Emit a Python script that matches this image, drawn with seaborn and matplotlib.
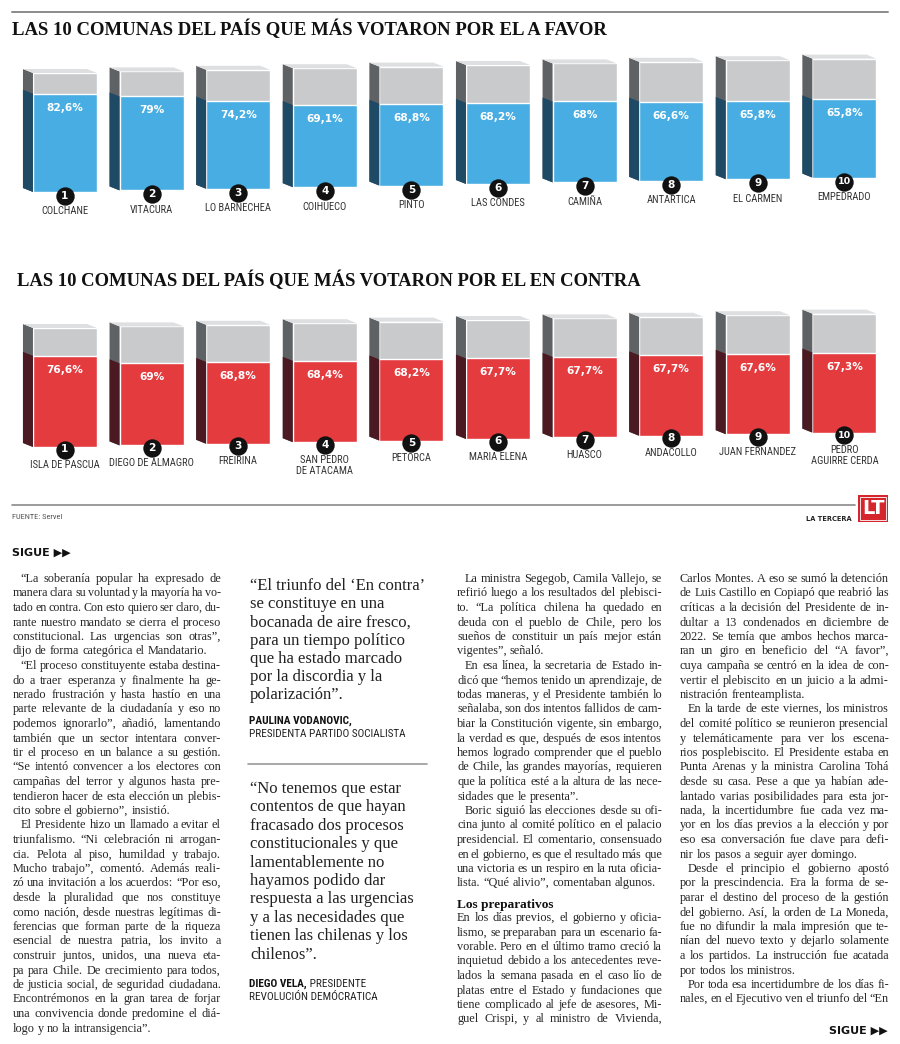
import math
import matplotlib
matplotlib.use("Agg")
import pandas as pd
import seaborn as sns
import matplotlib.pyplot as plt
from matplotlib.patches import Polygon, Rectangle
from matplotlib.font_manager import FontProperties, fontManager

# Datos de los dos graficos
titulo_favor = "LAS 10 COMUNAS DEL PAÍS QUE MÁS VOTARON POR EL A FAVOR"
favor_comunas = ["COLCHANE", "VITACURA", "LO BARNECHEA", "COIHUECO", "PINTO",
                 "LAS CONDES", "CAMIÑA", "ANTARTICA", "EL CARMEN", "EMPEDRADO"]
favor_pct = [82.6, 79, 74.2, 69.1, 68.8, 68.2, 68, 66.6, 65.8, 65.8]

titulo_contra = "LAS 10 COMUNAS DEL PAÍS QUE MÁS VOTARON POR EL EN CONTRA"
contra_comunas = ["ISLA DE PASCUA", "DIEGO DE ALMAGRO", "FREIRINA", "SAN PEDRO\nDE ATACAMA", "PETORCA",
                  "MARIA ELENA", "HUASCO", "ANDACOLLO", "JUAN FERNANDEZ", "PEDRO\nAGUIRRE CERDA"]
contra_pct = [76.6, 69, 68.8, 68.4, 68.2, 67.7, 67.7, 67.7, 67.6, 67.3]

fuente = "FUENTE: Servel"

# Texto de la nota: (sangria, lineas, sigue_en_otra_columna)
col1 = [
    (True, ["“La soberanía popular ha expresado de",
            "manera clara su voluntad y la mayoría ha vo-",
            "tado en contra. Con esto quiero ser claro, du-",
            "rante nuestro mandato se cierra el proceso",
            "constitucional. Las urgencias son otras”,",
            "dijo de forma categórica el Mandatario."], False),
    (True, ["“El proceso constituyente estaba destina-",
            "do a traer esperanza y finalmente ha ge-",
            "nerado frustración y hasta hastío en una",
            "parte relevante de la ciudadanía y eso no",
            "podemos ignorarlo”, añadió, lamentando",
            "también que un sector intentara conver-",
            "tir el proceso en un balance a su gestión.",
            "“Se intentó convencer a los electores con",
            "campañas del terror y algunos hasta pre-",
            "tendieron hacer de esta elección un plebis-",
            "cito sobre el gobierno”, insistió."], False),
    (True, ["El Presidente hizo un llamado a evitar el",
            "triunfalismo. “Ni celebración ni arrogan-",
            "cia. Pelota al piso, humildad y trabajo.",
            "Mucho trabajo”, comentó. Además reali-",
            "zó una invitación a los acuerdos: “Por eso,",
            "desde la pluralidad que nos constituye",
            "como nación, desde nuestras legítimas di-",
            "ferencias que forman parte de la riqueza",
            "esencial de nuestra patria, los invito a",
            "construir juntos, unidos, una nueva eta-",
            "pa para Chile. De crecimiento para todos,",
            "de justicia social, de seguridad ciudadana.",
            "Encontrémonos en la gran tarea de forjar",
            "una convivencia donde predomine el diá-",
            "logo y no la intransigencia”."], False),
]

col3a = [
    (True, ["La ministra Segegob, Camila Vallejo, se",
            "refirió luego a los resultados del plebisci-",
            "to. “La política chilena ha quedado en",
            "deuda con el pueblo de Chile, pero los",
            "sueños de constituir un país mejor están",
            "vigentes”, señaló."], False),
    (True, ["En esa línea, la secretaria de Estado in-",
            "dicó que “hemos tenido un aprendizaje, de",
            "todas maneras, y el Presidente también lo",
            "señalaba, son dos intentos fallidos de cam-",
            "biar la Constitución vigente, sin embargo,",
            "la verdad es que, después de esos intentos",
            "hemos logrado comprender que el pueblo",
            "de Chile, las grandes mayorías, requieren",
            "que la política esté a la altura de las nece-",
            "sidades que le presenta”."], False),
    (True, ["Boric siguió las elecciones desde su ofi-",
            "cina junto al comité político en el palacio",
            "presidencial. El comentario, consensuado",
            "en el gobierno, es que el resultado más que",
            "una victoria es un respiro en la ruta oficia-",
            "lista. “Qué alivio”, comentaban algunos."], False),
]
subtitulo = "Los preparativos"
col3b = [
    (False, ["En los días previos, el gobierno y oficia-",
             "lismo, se preparaban para un escenario fa-",
             "vorable. Pero en el último tramo creció la",
             "inquietud debido a los antecedentes reve-",
             "lados la semana pasada en el caso lío de",
             "platas entre el Estado y fundaciones que",
             "tiene complicado al jefe de asesores, Mi-",
             "guel Crispi, y al ministro de Vivienda,"], True),
]

col4 = [
    (False, ["Carlos Montes. A eso se sumó la detención",
             "de Luis Castillo en Copiapó que reabrió las",
             "críticas a la decisión del Presidente de in-",
             "dultar a 13 condenados en diciembre de",
             "2022. Se temía que ambos hechos marca-",
             "ran un giro en beneficio del “A favor”,",
             "cuya campaña se centró en la idea de con-",
             "vertir el plebiscito en un juicio a la admi-",
             "nistración frenteamplista."], False),
    (True, ["En la tarde de este viernes, los ministros",
            "del comité político se reunieron presencial",
            "y telemáticamente para ver los escena-",
            "rios posplebiscito. El Presidente estaba en",
            "Punta Arenas y la ministra Carolina Tohá",
            "desde su casa. Pese a que ya habían ade-",
            "lantado varias posibilidades para esta jor-",
            "nada, la incertidumbre fue cada vez ma-",
            "yor en los días previos a la elección y por",
            "eso esa conversación fue clave para defi-",
            "nir los pasos a seguir ayer domingo."], False),
    (True, ["Desde el principio el gobierno apostó",
            "por la prescindencia. Era la forma de se-",
            "parar el destino del proceso de la gestión",
            "del gobierno. Así, la orden de La Moneda,",
            "fue no difundir la mala impresión que te-",
            "nían del nuevo texto y dejarlo solamente",
            "a los partidos. La instrucción fue acatada",
            "por todos los ministros."], False),
    (True, ["Por toda esa incertidumbre de los días fi-",
            "nales, en el Ejecutivo ven el triunfo del “En"], True),
]

cita1 = ["“El triunfo del ‘En contra’", "se constituye en una", "bocanada de aire fresco,",
         "para un tiempo político", "que ha estado marcado", "por la discordia y la", "polarización”."]
cita1_autor = ("PAULINA VODANOVIC,", "PRESIDENTA PARTIDO SOCIALISTA")
cita2 = ["“No tenemos que estar", "contentos de que hayan", "fracasado dos procesos",
         "constitucionales y que", "lamentablemente no", "hayamos podido dar",
         "respuesta a las urgencias", "y a las necesidades que", "tienen las chilenas y los", "chilenos”."]
cita2_autor = ("DIEGO VELA,", " PRESIDENTE", "REVOLUCIÓN DEMÓCRATICA")

# colores
BLUE, BLUE_SIDE = "#48ADE2", "#1F4A66"
RED, RED_SIDE = "#E43B3F", "#4B1921"
GRAY, GRAY_SIDE, GRAY_TOP = "#C9CACB", "#5F6265", "#DEDFE0"

sns.set_theme(style="white")
installed = {f.name for f in fontManager.ttflist}
NARROW = next((f for f in ["Liberation Sans Narrow", "Roboto Condensed", "Roboto"] if f in installed), "DejaVu Sans")
SERIF = "Liberation Serif" if "Liberation Serif" in installed else "DejaVu Serif"
plt.rcParams["font.family"] = ["DejaVu Sans"]
narrow_size = 7.4 if NARROW == "Liberation Sans Narrow" else 6.3
label_size = narrow_size * 1.2
autor_size = (narrow_size - 0.4) * 1.37

W, H = 900, 1044
fig = plt.figure(figsize=(9, 10.44), dpi=100)
fig.patch.set_facecolor("white")
renderer = fig.canvas.get_renderer()


def fx(x):
    return x / W


def fy(y):
    return 1 - y / H


def text_w(s, fp):
    return renderer.get_text_width_height_descent(s, fp, ismath=False)[0]


STEP = 86.6   # px entre barras
X0 = 65       # centro px de la primera barra
PXU = 1.19    # px por punto porcentual
DRIFT = 1.6   # px que sube cada barra (perspectiva)


def draw_chart(title, tx, ty, comunas, pct, color, side, base_px, top_px, bot_px, circ_off, lab_off):
    fp = FontProperties(family=SERIF, weight="bold", size=14)
    target = {titulo_favor: 598, titulo_contra: 630}[title]
    fp.set_size(14 * target / text_w(title, fp))
    fig.text(fx(tx), fy(ty), title, fontproperties=fp, color="#111111", va="center")

    ax = fig.add_axes([0, fy(bot_px), 1, (bot_px - top_px) / H])
    df = pd.DataFrame({"comuna": comunas, "pct": pct, "total": 100.0})
    sns.barplot(data=df, x="comuna", y="total", color=GRAY, saturation=1, width=0.74,
                errorbar=None, ax=ax)
    sns.barplot(data=df, x="comuna", y="pct", color=color, saturation=1, width=0.74,
                errorbar=None, ax=ax)
    n = len(comunas)
    dx, dy = 10 / STEP, 4 / PXU
    for i in range(n):
        g, c = ax.patches[i], ax.patches[n + i]
        b = i * DRIFT / PXU
        g.set_y(b)
        c.set_y(b)
        g.set_zorder(2)
        c.set_zorder(3)
        x0, w, hg, hc = g.get_x(), g.get_width(), g.get_height(), c.get_height()
        ax.add_patch(Polygon([(x0, b), (x0, b + hg), (x0 - dx, b + hg + dy), (x0 - dx, b + dy)],
                             closed=True, facecolor=GRAY_SIDE, edgecolor="none", zorder=2))
        ax.add_patch(Polygon([(x0, b), (x0, b + hc), (x0 - dx, b + hc + dy), (x0 - dx, b + dy)],
                             closed=True, facecolor=side, edgecolor="none", zorder=3))
        ax.add_patch(Polygon([(x0 - dx, b + hg + dy), (x0, b + hg), (x0 + w, b + hg), (x0 + w - dx, b + hg + dy)],
                             closed=True, facecolor=GRAY_TOP, edgecolor="none", zorder=2))
        xc = x0 + w / 2
        lab = f"{pct[i]:g}%".replace(".", ",")
        ax.text(xc, b + hc - 14 / PXU, lab, color="white", fontsize=7.6, fontweight="bold",
                ha="center", va="center", zorder=5)
        ax.scatter([xc], [b - circ_off / PXU], s=175, color="#111111", zorder=6, linewidths=0)
        ax.text(xc, b - circ_off / PXU, str(i + 1), color="white", fontsize=7.6 if i < 9 else 6.8,
                fontweight="bold", ha="center", va="center", zorder=7)
        ax.text(xc, b - lab_off / PXU, comunas[i], color="#333333", family=NARROW, fontsize=label_size,
                ha="center", va="top", linespacing=1.1, zorder=5)
    ax.set_xlim((0 - X0) / STEP, (W - X0) / STEP)
    ax.set_ylim((base_px - bot_px) / PXU, (base_px - top_px) / PXU)
    ax.set_axis_off()


# lineas y titulos de la infografia
fig.add_artist(plt.Line2D([fx(12), fx(888)], [fy(12), fy(12)], color="#8a8a8a", lw=1.4))
draw_chart(titulo_favor, 12, 29, favor_comunas, favor_pct, BLUE, BLUE_SIDE, 192, 45, 240, 4, 14.5)
draw_chart(titulo_contra, 17, 280, contra_comunas, contra_pct, RED, RED_SIDE, 447, 300, 495, 2.5, 12.5)
fig.add_artist(plt.Line2D([fx(12), fx(855)], [fy(505), fy(505)], color="#8a8a8a", lw=1.2))
fig.text(fx(12), fy(517), fuente, fontsize=6.0, color="#555555", va="center", family=NARROW)
fig.text(fx(852), fy(519), "LA TERCERA", fontsize=4.8, color="#222222", fontweight="bold",
         va="center", ha="right")
fig.add_artist(Rectangle((fx(858), fy(522)), 30 / W, 27 / H, facecolor="#D6262D",
                         edgecolor="none", transform=fig.transFigure))
fig.add_artist(Rectangle((fx(860), fy(520)), 26 / W, 23 / H, facecolor="none",
                         edgecolor="white", lw=0.6, transform=fig.transFigure))
fig.text(fx(873), fy(509), "LT", fontsize=14, color="white", fontweight="bold",
         ha="center", va="center")

fig.text(fx(12), fy(553), "SIGUE ▶▶", fontsize=8, fontweight="bold", color="#111111", va="center")
fig.text(fx(888), fy(1031), "SIGUE ▶▶", fontsize=8, fontweight="bold", color="#111111",
         va="center", ha="right")

# texto justificado palabra por palabra
BODY_SIZE = 8.8
LEAD = 14.5


def put_word(word, x, base_row, fp):
    # Agg redondea cada palabra segun su propia caja; se compensa para que
    # todas las palabras de una linea queden sobre la misma fila base
    _, hh, dd = renderer.get_text_width_height_descent(word, fp, ismath=False)
    row = base_row + math.floor(hh) - math.floor(hh - dd) - dd
    fig.text(fx(x), fy(row), word, fontproperties=fp, color="#262626", va="baseline")


def body_line(line, x0, x1, y, justify, size=BODY_SIZE):
    words = line.split()
    fp = FontProperties(family=SERIF, size=size)
    ws = [text_w(w, fp) for w in words]
    space = text_w("n n", fp) - text_w("nn", fp)
    avail = x1 - x0
    gaps = max(len(words) - 1, 1)
    if sum(ws) + 0.6 * space * gaps > avail:
        fp.set_size(size * (avail - 0.6 * space * gaps) / sum(ws))
        ws = [text_w(w, fp) for w in words]
        space = text_w("n n", fp) - text_w("nn", fp)
    gap = (avail - sum(ws)) / gaps if justify and len(words) > 1 else space
    x = x0
    base_row = round(y + 4)
    for w, wd in zip(words, ws):
        put_word(w, x, base_row, fp)
        x += wd + gap


def body_column(paragraphs, x0, x1, y):
    for indent, lines, cont in paragraphs:
        for k, line in enumerate(lines):
            ind = 8 if indent and k == 0 else 0
            last = k == len(lines) - 1 and not cont
            body_line(line, x0 + ind, x1, y, not last)
            y += LEAD
    return y


body_column(col1, 12.5, 221, 578)
body_column(col3a, 457, 662, 578)
fig.text(fx(457), fy(908), subtitulo, fontsize=9.6, fontweight="bold", family=SERIF,
         color="#111111", va="baseline")
body_column(col3b, 457, 662, 917)
body_column(col4, 680, 889, 578)

# citas destacadas
for k, line in enumerate(cita1):
    fig.text(fx(250), fy(585 + 18.2 * k + 5), line, family=SERIF, fontsize=12, color="#222222",
             va="baseline")
fpb = FontProperties(family=NARROW, size=autor_size, weight="bold")
fig.text(fx(249), fy(721), cita1_autor[0], fontproperties=fpb, color="#111111", va="center")
fig.text(fx(249), fy(734), cita1_autor[1], family=NARROW, fontsize=autor_size,
         color="#222222", va="center")
fig.add_artist(plt.Line2D([fx(248), fx(427)], [fy(764), fy(764)], color="#9a9a9a", lw=1.2))
for k, line in enumerate(cita2):
    fig.text(fx(250), fy(788 + 18.4 * k + 5), line, family=SERIF, fontsize=12, color="#222222",
             va="baseline")
fig.text(fx(249), fy(984), cita2_autor[0], fontproperties=fpb, color="#111111", va="center")
fig.text(fx(249 + text_w(cita2_autor[0], fpb)), fy(984), cita2_autor[1], family=NARROW,
         fontsize=autor_size, color="#222222", va="center")
fig.text(fx(249), fy(997), cita2_autor[2], family=NARROW, fontsize=autor_size,
         color="#222222", va="center")

fig.savefig("out.png", dpi=100, facecolor="white")
